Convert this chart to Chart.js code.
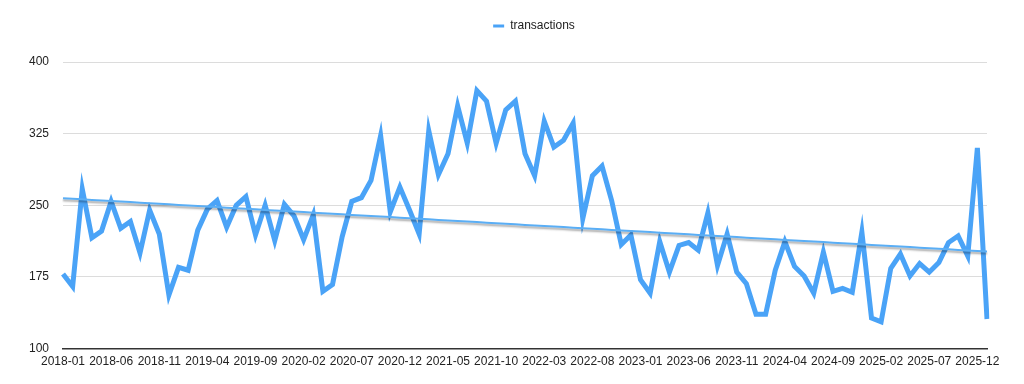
<!DOCTYPE html>
<html>
<head>
<meta charset="utf-8">
<script src="https://cdn.jsdelivr.net/npm/chart.js@4/dist/chart.umd.min.js"></script>
<style>
  html, body { margin: 0; padding: 0; background: #fff; }
  #wrap { width: 1024px; height: 384px; }
</style>
</head>
<body>
<div id="wrap"><canvas id="txChart" width="1024" height="384"></canvas></div>
<script>
// monthly categories 2018-01 .. 2026-01
const months = [];
for (let y = 2018; y <= 2026; y++) {
  for (let m = 1; m <= 12; m++) {
    if (y === 2026 && m > 1) break;
    months.push(y + '-' + String(m).padStart(2, '0'));
  }
}

const transactions = [
  178, 165, 267, 216, 223, 254, 226, 233, 200, 245,
  220, 156, 185, 182, 224, 246, 255, 227, 250, 259,
  219, 250, 213, 251, 239, 214, 240, 160, 167, 217,
  254, 258, 276, 323, 243, 269, 245, 220, 328, 282,
  304, 354, 315, 370, 359, 315, 350, 359, 304, 281,
  338, 311, 318, 336, 236, 281, 291, 255, 209, 219,
  172, 158, 212, 180, 208, 211, 203, 242, 187, 220,
  180, 168, 136, 136, 182, 212, 186, 176, 158, 201,
  160, 163, 159, 222, 132, 128, 184, 199, 176, 189,
  180, 190, 211, 218, 197, 310, 131
];

const yTicks = [100, 175, 250, 325, 400];

// least squares trend over the series
const n = transactions.length;
let sx = 0, sy = 0, sxy = 0, sxx = 0;
transactions.forEach((v, i) => { sx += i; sy += v; sxy += i * v; sxx += i * i; });
const slope = (n * sxy - sx * sy) / (n * sxx - sx * sx);
const icpt = (sy - slope * sx) / n;
const trend = transactions.map((v, i) => icpt + slope * i);

// soft grey shadow under the trend line
const trendShadow = {
  id: 'trendShadow',
  beforeDatasetDraw(chart, args) {
    if (args.index !== 1) return;
    const ctx = chart.ctx;
    ctx.save();
    ctx.shadowColor = 'rgba(0,0,0,0.35)';
    ctx.shadowBlur = 2;
    ctx.shadowOffsetY = 2;
  },
  afterDatasetDraw(chart, args) {
    if (args.index !== 1) return;
    chart.ctx.restore();
  }
};

// extra room between legend and plot, legend nudged right
const legendGap = {
  id: 'legendGap',
  beforeInit(chart) {
    const fit = chart.legend.fit;
    chart.legend.fit = function () {
      fit.bind(chart.legend)();
      this.height += 20;
    };
  },
  afterLayout(chart) {
    chart.legend.left += 66;
  }
};

Chart.defaults.font.family = '"Liberation Sans", Arial, sans-serif';
Chart.defaults.font.size = 12;
Chart.defaults.color = '#222';

const ctx = document.getElementById('txChart').getContext('2d');
new Chart(ctx, {
  type: 'line',
  data: {
    labels: months,
    datasets: [{
      label: 'transactions',
      data: transactions,
      borderColor: '#4aa3f7',
      backgroundColor: '#4aa3f7',
      borderWidth: 5,
      pointRadius: 0,
      tension: 0,
      order: 2
    }, {
      label: 'trend',
      data: trend,
      borderColor: '#5aaef5',
      borderWidth: 2,
      pointRadius: 0,
      order: 1
    }]
  },
  options: {
    responsive: false,
    animation: false,
    layout: { padding: { left: 15, right: 37, top: 0, bottom: 9 } },
    plugins: {
      tooltip: { enabled: false },
      legend: {
        position: 'top',
        labels: {
          usePointStyle: true,
          pointStyle: 'line',
          pointStyleWidth: 11,
          padding: 20,
          color: '#222',
          generateLabels: chart => Chart.defaults.plugins.legend.labels.generateLabels(chart)
            .filter(l => l.datasetIndex === 0)
            .map(l => Object.assign(l, { lineWidth: 3 }))
        }
      }
    },
    scales: {
      x: {
        offset: false,
        grid: { display: false, drawTicks: false },
        border: { display: true, color: '#333', width: 1.5 },
        ticks: {
          autoSkip: false,
          maxRotation: 0,
          padding: 6,
          color: '#222',
          callback: function (val, idx) { return idx % 5 === 0 ? months[idx] : null; }
        }
      },
      y: {
        min: 100,
        max: 400,
        afterBuildTicks: axis => { axis.ticks = yTicks.map(v => ({ value: v })); },
        grid: { color: '#dcdcdc', drawTicks: false },
        border: { display: false },
        ticks: { padding: 14, color: '#222' }
      }
    }
  },
  plugins: [trendShadow, legendGap]
});
</script>
</body>
</html>
